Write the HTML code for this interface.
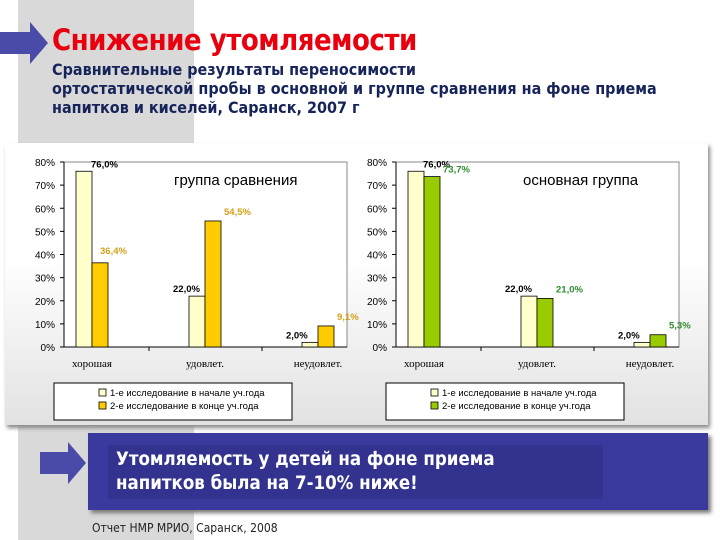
<!DOCTYPE html>
<html><head><meta charset="utf-8">
<style>
body{margin:0;width:720px;height:540px;overflow:hidden;background:#fff;font-family:"Liberation Sans","DejaVu Sans",sans-serif;position:relative}
.band{position:absolute;left:18px;top:0;width:176px;height:540px;background:#d9d9d9}
.title{position:absolute;left:52px;top:23px;font-size:29px;font-weight:bold;color:#e8000e;font-family:"DejaVu Sans Condensed","DejaVu Sans",sans-serif;letter-spacing:-0.5px}
.sub{position:absolute;left:52px;top:60px;font-size:16px;font-weight:bold;color:#16245a;line-height:19px;font-family:"DejaVu Sans Condensed","DejaVu Sans",sans-serif;white-space:nowrap}
.panel{position:absolute;left:5px;top:143px;width:703px;height:282px;background:linear-gradient(#fff 40%,#e2e2e2);box-shadow:2px 3px 4px #888}
.box{position:absolute;left:88px;top:433px;width:620px;height:77px;background:#3a3a9e;box-shadow:3px 3px 4px #777}
.inner{position:absolute;left:108px;top:445px;width:495px;height:54px;background:#33338f;color:#fff;font-weight:bold;font-size:18.5px;line-height:24px;padding:3px 8px;box-sizing:border-box;font-family:"DejaVu Sans Condensed","DejaVu Sans",sans-serif}
.foot{position:absolute;left:92px;top:521px;font-size:12px;color:#222;font-family:"DejaVu Sans Condensed","DejaVu Sans",sans-serif}
</style></head><body>
<div class="band"></div>
<svg style="position:absolute;left:0;top:20px" width="60" height="50"><polygon points="0,12 30,12 30,2 48,23 30,44 30,34 0,34" fill="#4a4aa8"/></svg>
<div class="title">Снижение утомляемости</div>
<div class="sub">Сравнительные результаты переносимости<br>ортостатической пробы в основной и группе сравнения на фоне приема<br>напитков и киселей, Саранск, 2007 г</div>
<div class="panel"></div>
<svg id="ch" style="position:absolute;left:0;top:0" width="720" height="430"></svg>
<svg style="position:absolute;left:40px;top:440px" width="50" height="50"><polygon points="0,12 28,12 28,2 46,23 28,44 28,34 0,34" fill="#4a4aa8"/></svg>
<div class="box"></div>
<div class="inner">Утомляемость у детей на фоне приема<br>напитков была на 7-10% ниже!</div>
<div class="foot">Отчет НМР МРИО, Саранск, 2008</div>
<script>
const categories=["хорошая","удовлет.","неудовлет."];
const yTicks=[0,10,20,30,40,50,60,70,80];
const compStart=[76.0,22.0,2.0];
const compEnd=[36.4,54.5,9.1];
const mainStart=[76.0,22.0,2.0];
const mainEnd=[73.7,21.0,5.3];
const legendLabels=["1-е исследование в начале уч.года","2-е исследование в конце уч.года"];
const svg=document.getElementById('ch');
const NS='http://www.w3.org/2000/svg';
function mk(t,a,txt){const e=document.createElementNS(NS,t);for(const k in a)e.setAttribute(k,a[k]);if(txt!==undefined)e.textContent=txt;svg.appendChild(e);return e;}
function fmt(v){return v.toFixed(1).replace('.',',')+'%';}
function chart(ax,s1,s2,c2,lc2,title,titleX,name){
  const y0=347,yTop=162,right=ax+283;
  const y=v=>y0-(v/80)*(y0-yTop);
  const cx=i=>ax+28+i*113;
  let e=mk('rect',{x:ax,y:yTop,width:right-ax,height:y0-yTop,fill:'#fff',stroke:'#888','stroke-width':1});
  
  yTicks.forEach(t=>{
    e=mk('text',{x:ax-9,y:y(t)+4,'font-size':10,'text-anchor':'end',fill:'#000'},t+'%');
    
    mk('line',{x1:ax-4,x2:ax,y1:y(t),y2:y(t),stroke:'#000'});
  });
  mk('line',{x1:ax,x2:ax,y1:yTop,y2:y0,stroke:'#000'});
  mk('line',{x1:ax,x2:right,y1:y0,y2:y0,stroke:'#000'});
  categories.forEach((c,i)=>{
    const x=cx(i);
    e=mk('rect',{x:x-16,y:y(s1[i]),width:16,height:y0-y(s1[i]),fill:'#ffffcc',stroke:'#000','stroke-width':0.8});
    
    e=mk('rect',{x:x,y:y(s2[i]),width:16,height:y0-y(s2[i]),fill:c2,stroke:'#000','stroke-width':0.8});
    
    e=mk('text',{x:x-1,y:y(s1[i])-4,'font-size':9.5,'font-weight':'bold','text-anchor':'start',fill:'#000'},fmt(s1[i]));
    if(i>0)e.setAttribute('x',x-32);
    
    const over=(s1[i]-s2[i])<8;
    e=mk('text',{x:over?x+19:x+8,y:over?y(s2[i])+(i===0?-4:-6):y(s2[i])-9,'font-size':9.5,'font-weight':'bold',fill:lc2},fmt(s2[i]));
    
    e=mk('text',{x:x,y:367,'font-size':11,'text-anchor':'middle','font-family':'Liberation Serif, serif',fill:'#000'},c);
    
    if(i>0)mk('line',{x1:x-56,x2:x-56,y1:y0,y2:y0+4,stroke:'#000'});
  });
  e=mk('text',{x:titleX,y:185,'font-size':15,fill:'#000'},title);
  
  const lx=ax-10;
  e=mk('rect',{x:lx,y:383,width:238,height:37,fill:'#fff',stroke:'#000'});
  
  [ '#ffffcc',c2].forEach((col,k)=>{
    mk('rect',{x:lx+45,y:389+k*13,width:7,height:7,fill:col,stroke:'#000','stroke-width':0.8});
    e=mk('text',{x:lx+56,y:396+k*13,'font-size':9.5,fill:'#000'},legendLabels[k]);
    
  });
}
chart(64,compStart,compEnd,'#ffcc00','#d4a017','группа сравнения',174,'comparison');
chart(396,mainStart,mainEnd,'#99cc00','#2e8b2e','основная группа',523,'main');
</script>
</body></html>
